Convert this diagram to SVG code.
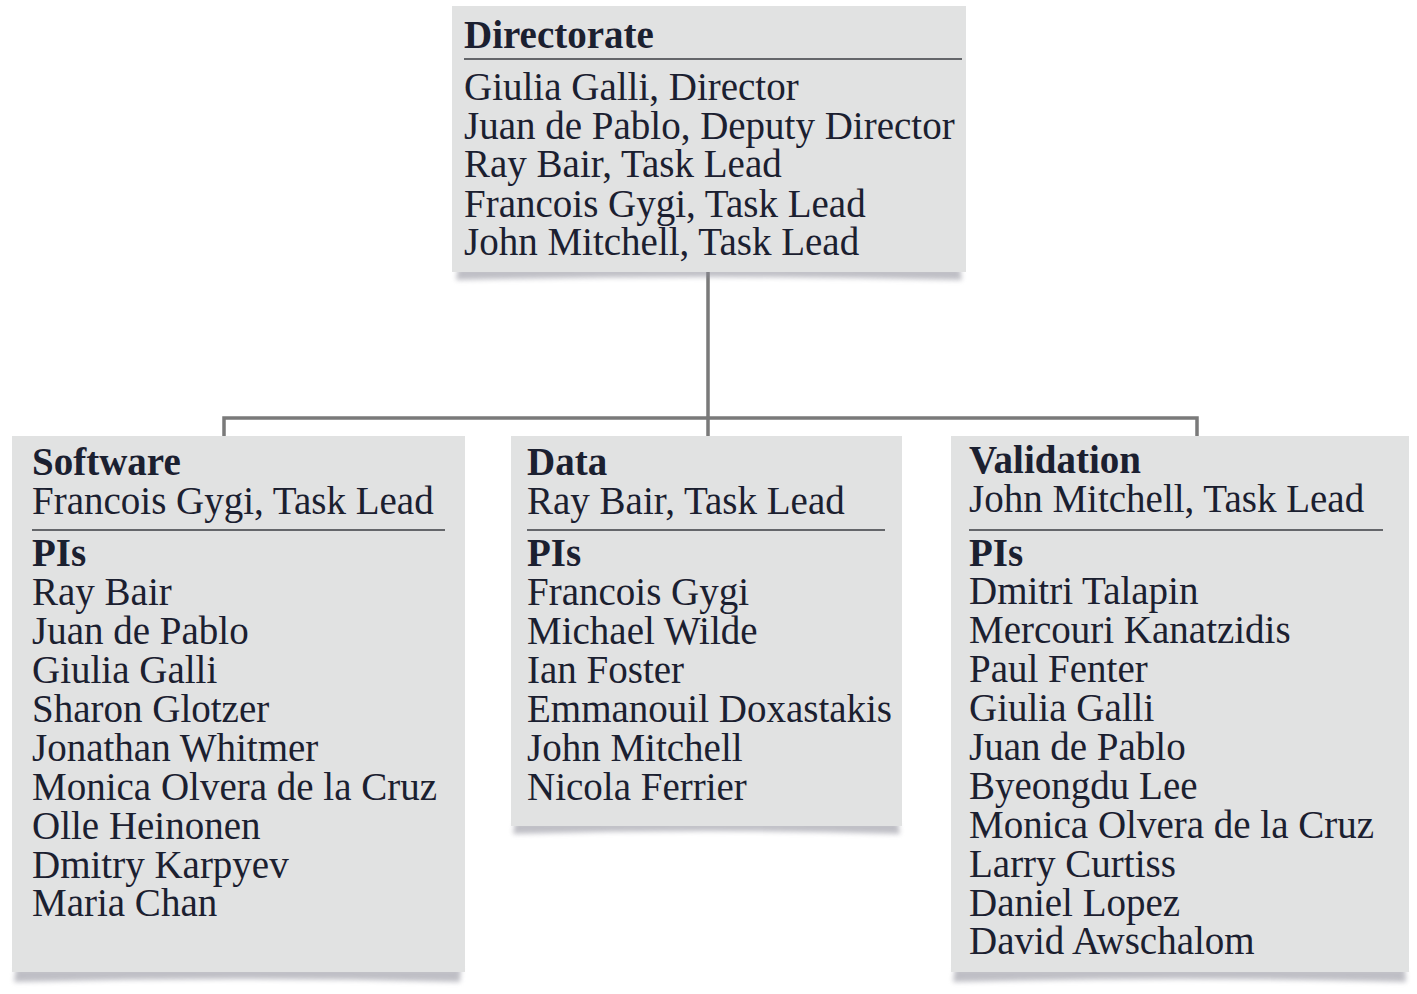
<svg xmlns="http://www.w3.org/2000/svg" width="1417" height="994" viewBox="0 0 1417 994">
<style>
.box{fill:#e1e2e2}
.t{font-family:"Liberation Serif","Times New Roman",serif;font-size:39px;fill:#1b2030}
.b{font-weight:bold}
.rule{stroke:#3a3d42;stroke-width:1.6}
.conn{stroke:#7a7a7a;stroke-width:3.5;fill:none}
.sh{fill:#8a8a96;opacity:0.55}
</style>
<defs>
<filter id="blur" x="-10%" y="-200%" width="120%" height="500%"><feGaussianBlur stdDeviation="2.5"/></filter>
</defs>
<g id="connectors">
<path class="conn" d="M708 272 V418 M224 436 V418 H1197 V436 M708 418 V436"/>
</g>
<g id="directorate">
<path class="sh" filter="url(#blur)" d="M458 268 H960 L962 280 Q710 274 456 280 Z"/>
<rect class="box" x="452" y="6" width="514" height="266"/>
<text class="t b" x="464" y="48">Directorate</text>
<line class="rule" x1="464" y1="59" x2="962" y2="59"/>
<text class="t" x="464" y="100">Giulia Galli, Director</text>
<text class="t" x="464" y="139">Juan de Pablo, Deputy Director</text>
<text class="t" x="464" y="177">Ray Bair, Task Lead</text>
<text class="t" x="464" y="217">Francois Gygi, Task Lead</text>
<text class="t" x="464" y="255">John Mitchell, Task Lead</text>
</g>
<g id="software">
<path class="sh" filter="url(#blur)" d="M16 968 H461 L460 982 Q238 976 14 982 Z"/>
<rect class="box" x="12" y="436" width="453" height="536"/>
<text class="t b" x="32" y="475">Software</text>
<text class="t" x="32" y="514">Francois Gygi, Task Lead</text>
<line class="rule" x1="32" y1="530" x2="445" y2="530"/>
<text class="t b" x="32" y="566">PIs</text>
<text class="t" x="32" y="605">Ray Bair</text>
<text class="t" x="32" y="644">Juan de Pablo</text>
<text class="t" x="32" y="683">Giulia Galli</text>
<text class="t" x="32" y="722">Sharon Glotzer</text>
<text class="t" x="32" y="761">Jonathan Whitmer</text>
<text class="t" x="32" y="800">Monica Olvera de la Cruz</text>
<text class="t" x="32" y="839">Olle Heinonen</text>
<text class="t" x="32" y="878">Dmitry Karpyev</text>
<text class="t" x="32" y="916">Maria Chan</text>
</g>
<g id="data">
<path class="sh" filter="url(#blur)" d="M515 822 H898 L900 834 Q707 828 513 834 Z"/>
<rect class="box" x="511" y="436" width="391" height="390"/>
<text class="t b" x="527" y="475">Data</text>
<text class="t" x="527" y="514">Ray Bair, Task Lead</text>
<line class="rule" x1="527" y1="530" x2="885" y2="530"/>
<text class="t b" x="527" y="566">PIs</text>
<text class="t" x="527" y="605">Francois Gygi</text>
<text class="t" x="527" y="644">Michael Wilde</text>
<text class="t" x="527" y="683">Ian Foster</text>
<text class="t" x="527" y="722">Emmanouil Doxastakis</text>
<text class="t" x="527" y="761">John Mitchell</text>
<text class="t" x="527" y="800">Nicola Ferrier</text>
</g>
<g id="validation">
<path class="sh" filter="url(#blur)" d="M955 968 H1405 L1406 982 Q1180 976 953 982 Z"/>
<rect class="box" x="951" y="436" width="458" height="536"/>
<text class="t b" x="969" y="473">Validation</text>
<text class="t" x="969" y="512">John Mitchell, Task Lead</text>
<line class="rule" x1="969" y1="530" x2="1383" y2="530"/>
<text class="t b" x="969" y="566">PIs</text>
<text class="t" x="969" y="604">Dmitri Talapin</text>
<text class="t" x="969" y="643">Mercouri Kanatzidis</text>
<text class="t" x="969" y="682">Paul Fenter</text>
<text class="t" x="969" y="721">Giulia Galli</text>
<text class="t" x="969" y="760">Juan de Pablo</text>
<text class="t" x="969" y="799">Byeongdu Lee</text>
<text class="t" x="969" y="838">Monica Olvera de la Cruz</text>
<text class="t" x="969" y="877">Larry Curtiss</text>
<text class="t" x="969" y="916">Daniel Lopez</text>
<text class="t" x="969" y="954">David Awschalom</text>
</g>
</svg>
